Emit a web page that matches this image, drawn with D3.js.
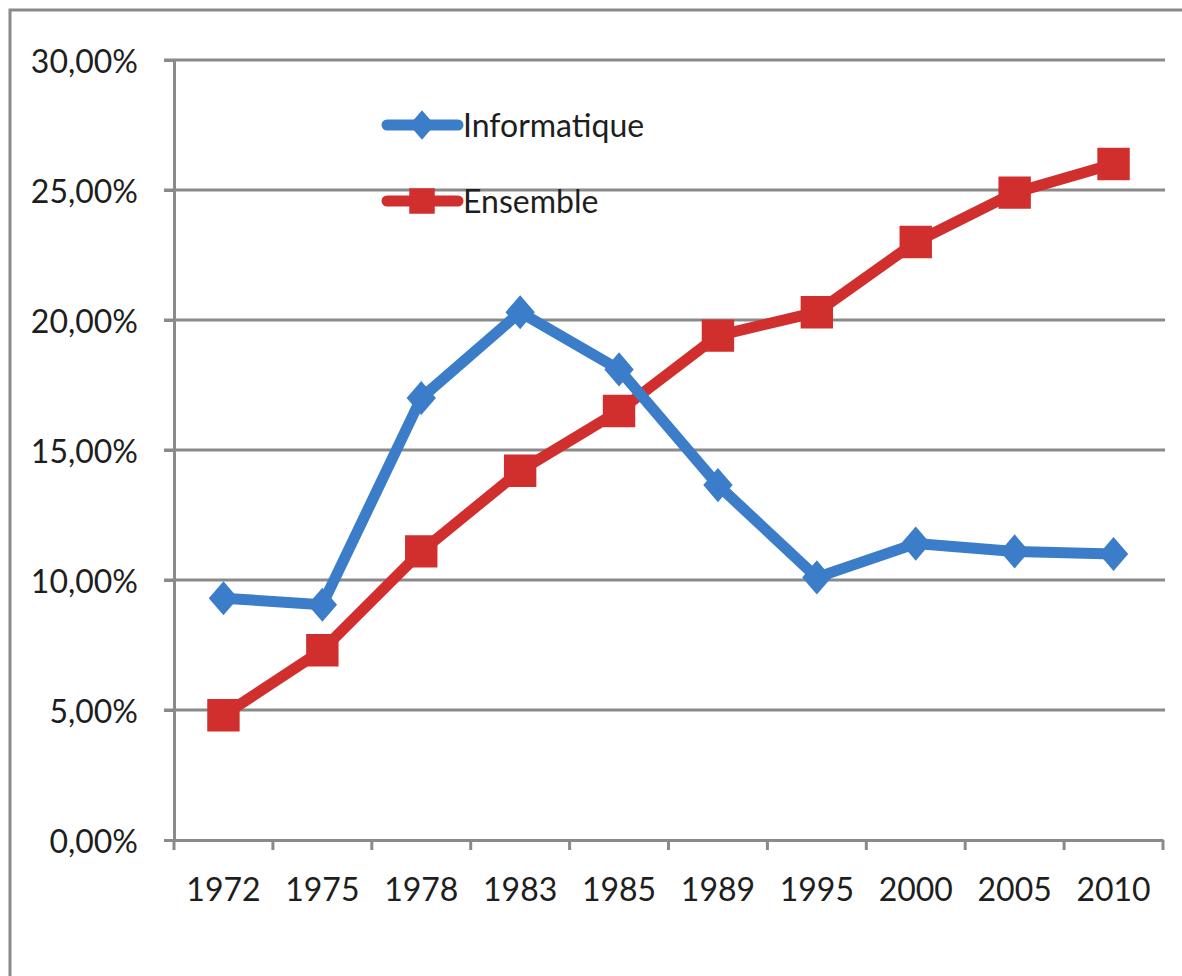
<!DOCTYPE html>
<html>
<head>
<meta charset="utf-8">
<script src="https://cdn.jsdelivr.net/npm/d3@7"></script>
<style>
body{margin:0;background:#fff;}
text{font-family:Lato,"Open Sans",sans-serif;fill:#1e1e1e;}
</style>
</head>
<body>
<svg id="chart"></svg>
<script>
var years = ["1972","1975","1978","1983","1985","1989","1995","2000","2005","2010"]
var informatique = [9.3,9.05,17.0,20.3,18.1,13.65,10.1,11.4,11.1,11.0]
var ensemble = [4.8,7.3,11.1,14.2,16.5,19.4,20.3,23.0,24.9,26.0]
var yTicks = [0,5,10,15,20,25,30]
var seriesNames = ["Informatique","Ensemble"]

var screen = {width:1182,height:976}
var margins = {left:174,right:19,top:60,bottom:136}
var graph = {
    width:screen.width-margins.left-margins.right,
    height:screen.height-margins.top-margins.bottom
}
var blue = "#3b7dc9", red = "#d12e2e", grey = "#8a8a8a"

// wider diamond than d3's default
var diamond = {
    draw:function(ctx,size){
        var w = Math.sqrt(size)*0.62, h = Math.sqrt(size)*0.72
        ctx.moveTo(0,-h); ctx.lineTo(w,0); ctx.lineTo(0,h); ctx.lineTo(-w,0); ctx.closePath()
    }
}

var svg = d3.select("#chart")
    .attr("width",screen.width)
    .attr("height",screen.height)

// outer frame
svg.append("path")
    .attr("d","M10,976V10H1182")
    .attr("fill","none")
    .attr("stroke",grey)
    .attr("stroke-width",3)

var xScale = d3.scaleBand()
    .domain(years)
    .range([0,graph.width])

var yScale = d3.scaleLinear()
    .domain([0,30])
    .range([graph.height,0])

var target = svg.append("g")
    .attr("transform","translate("+margins.left+","+margins.top+")")

// gridlines
target.selectAll(".grid")
    .data(yTicks.filter(function(d){return d>0}))
    .enter()
    .append("line")
    .attr("x1",-10)
    .attr("x2",graph.width+2)
    .attr("y1",function(d){return yScale(d)})
    .attr("y2",function(d){return yScale(d)})
    .attr("stroke",grey)
    .attr("stroke-width",3)

// y axis
var yAxis = d3.axisLeft(yScale)
    .tickValues(yTicks)
    .tickSize(10)
    .tickPadding(26)
    .tickFormat(function(d){return d3.format(".2f")(d).replace(".",",")+"%"})
var ya = target.append("g").call(yAxis)
ya.select(".domain").attr("stroke",grey).attr("stroke-width",3)
ya.selectAll(".tick line").attr("stroke",grey).attr("stroke-width",3)
ya.selectAll(".tick text").attr("font-size",32).attr("dy","0.38em")

// x axis
var xAxis = d3.axisBottom(xScale).tickSize(0).tickPadding(38)
var xa = target.append("g")
    .attr("transform","translate(0,"+graph.height+")")
    .call(xAxis)
xa.select(".domain").attr("stroke",grey).attr("stroke-width",3)
xa.selectAll(".tick text").attr("font-size",32)
xa.selectAll(".sep")
    .data(years.concat(["end"]))
    .enter()
    .append("line")
    .attr("x1",function(d,i){return i*xScale.bandwidth()})
    .attr("x2",function(d,i){return i*xScale.bandwidth()})
    .attr("y1",0)
    .attr("y2",10)
    .attr("stroke",grey)
    .attr("stroke-width",3)

var cx = function(d,i){return xScale(years[i])+xScale.bandwidth()/2}
var line = d3.line()
    .x(cx)
    .y(function(d){return yScale(d)})

var drawSeries = function(vals,color,shape,size)
{
    target.append("path")
        .datum(vals)
        .attr("d",line)
        .attr("fill","none")
        .attr("stroke",color)
        .attr("stroke-width",11)
        .attr("stroke-linejoin","round")
    target.append("g").selectAll("path")
        .data(vals)
        .enter()
        .append("path")
        .attr("d",d3.symbol().type(shape).size(size))
        .attr("transform",function(d,i){return "translate("+cx(d,i)+","+yScale(d)+")"})
        .attr("fill",color)
}
drawSeries(ensemble,red,d3.symbolSquare,1050)
drawSeries(informatique,blue,diamond,560)

// legend
var legend = svg.append("g")
var legendData = [
    {name:seriesNames[0],color:blue,shape:diamond,size:420,y:125},
    {name:seriesNames[1],color:red,shape:d3.symbolSquare,size:650,y:201}
]
legendData.forEach(function(l){
    legend.append("line")
        .attr("x1",387).attr("x2",458)
        .attr("y1",l.y).attr("y2",l.y)
        .attr("stroke",l.color).attr("stroke-width",11)
        .attr("stroke-linecap","round")
    legend.append("path")
        .attr("d",d3.symbol().type(l.shape).size(l.size))
        .attr("transform","translate(422,"+l.y+")")
        .attr("fill",l.color)
    legend.append("text")
        .text(l.name)
        .attr("x",463)
        .attr("y",l.y+12)
        .attr("font-size",32)
})
</script>
</body>
</html>
